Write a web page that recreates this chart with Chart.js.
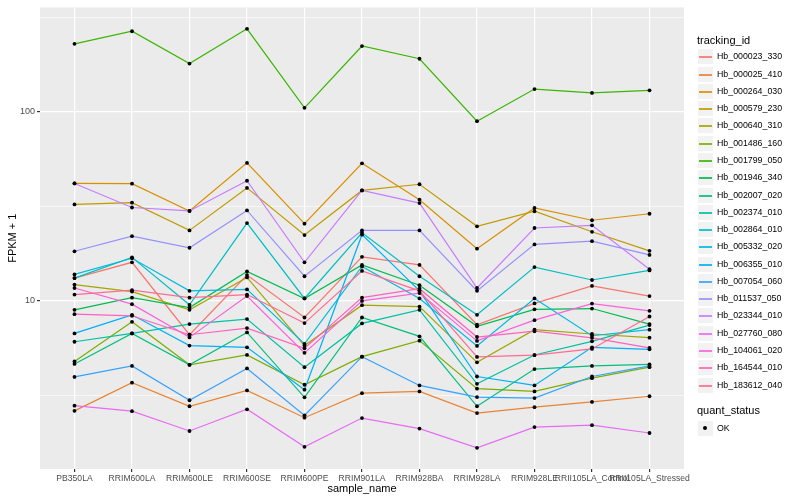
<!DOCTYPE html>
<html>
<head>
<meta charset="utf-8">
<script src="https://cdn.jsdelivr.net/npm/chart.js@4.4.1/dist/chart.umd.min.js"></script>
<style>
  html, body { margin: 0; padding: 0; background: #ffffff; }
  #wrap { position: relative; width: 800px; height: 500px; font-family: "Liberation Sans", Arial, sans-serif; }
  #legend { position: absolute; left: 697px; top: 0; width: 103px; height: 500px; }
  .lg-title { position: absolute; left: 0; font-size: 11px; line-height: 13px; color: #000; white-space: nowrap; }
  .lg-key { position: absolute; left: 0; width: 17px; height: 17px; background: #f2f2f2; box-sizing: border-box; border: 1px solid #ffffff; }
  .lg-line { position: absolute; left: 1px; width: 13px; top: 6.5px; height: 2px; opacity: 0.85; }
  .lg-dot { position: absolute; left: 5px; top: 5px; width: 4px; height: 4px; border-radius: 50%; background: #000; }
  .lg-text { position: absolute; left: 20px; font-size: 8.8px; line-height: 11px; color: #000; white-space: nowrap; }
</style>
</head>
<body>
<div id="wrap">
  <canvas id="chart" width="800" height="500"></canvas>
  <div id="legend"></div>
</div>
<script>
/* ---- data ---- */
const categories = ['PB350LA', 'RRIM600LA', 'RRIM600LE', 'RRIM600SE', 'RRIM600PE', 'RRIM901LA',
  'RRIM928BA', 'RRIM928LA', 'RRIM928LE', 'RRII105LA_Control', 'RRII105LA_Stressed'];

const trackingIds = ['Hb_000023_330', 'Hb_000025_410', 'Hb_000264_030', 'Hb_000579_230', 'Hb_000640_310',
  'Hb_001486_160', 'Hb_001799_050', 'Hb_001946_340', 'Hb_002007_020', 'Hb_002374_010',
  'Hb_002864_010', 'Hb_005332_020', 'Hb_006355_010', 'Hb_007054_060', 'Hb_011537_050',
  'Hb_023344_010', 'Hb_027760_080', 'Hb_104061_020', 'Hb_164544_010', 'Hb_183612_040'];

const seriesColors = ['#F8766D', '#EA8331', '#D89000', '#C09B00', '#A3A500', '#7CAE00', '#39B600',
  '#00BB4E', '#00BF7D', '#00C1A3', '#00BFC4', '#00BAE0', '#00B0F6', '#35A2FF', '#9590FF',
  '#C77CFF', '#E76BF3', '#FA62DB', '#FF62BC', '#FF6C91'];

// FPKM + 1 per sample, same order as categories
const hb_000023_330 = [13.2, 16.0, 6.62, 13.7, 8.17, 17.1, 15.5, 7.48, 9.70, 12.0, 10.6];
const hb_000025_410 = [2.62, 3.69, 2.77, 3.36, 2.41, 3.25, 3.32, 2.55, 2.74, 2.92, 3.13];
const hb_000264_030 = [41.8, 41.7, 29.9, 53.7, 25.6, 53.4, 34.3, 18.9, 31.0, 26.7, 28.9];
const hb_000579_230 = [32.4, 33.1, 23.6, 39.6, 22.3, 38.4, 41.4, 24.8, 29.8, 23.2, 18.4];
const hb_000640_310 = [12.2, 11.2, 8.97, 13.3, 5.80, 9.49, 9.33, 4.73, 7.04, 6.68, 6.39];
const hb_001486_160 = [4.78, 7.75, 4.59, 5.18, 3.60, 5.07, 6.16, 3.43, 3.32, 3.90, 4.46];
const hb_001799_050 = [229, 267, 180, 275, 105, 223, 191, 89.3, 132, 126, 130];
const hb_001946_340 = [8.97, 10.4, 9.22, 14.3, 10.3, 15.5, 12.1, 7.34, 9.02, 9.11, 7.54];
const hb_002007_020 = [4.64, 6.73, 4.59, 6.81, 3.09, 8.17, 6.49, 2.77, 4.36, 4.53, 4.61];
const hb_002374_010 = [6.08, 6.73, 7.54, 8.01, 4.46, 7.60, 8.97, 3.64, 5.17, 6.11, 7.45];
const hb_002864_010 = [13.2, 17.0, 9.53, 25.8, 10.3, 22.9, 13.5, 8.44, 15.1, 12.9, 14.5];
const hb_005332_020 = [13.8, 16.8, 11.3, 11.5, 5.92, 15.2, 10.3, 5.78, 10.3, 6.54, 7.04];
const hb_006355_010 = [6.73, 8.44, 5.80, 5.68, 3.39, 22.4, 11.3, 3.98, 3.57, 5.68, 5.54];
const hb_007054_060 = [3.96, 4.53, 2.98, 4.39, 2.48, 5.07, 3.57, 3.10, 3.06, 3.98, 4.53];
const hb_011537_050 = [18.3, 22.0, 19.1, 30.1, 13.5, 23.6, 23.6, 11.3, 19.9, 20.7, 17.5];
const hb_023344_010 = [41.8, 31.2, 29.9, 43.2, 16.0, 38.4, 32.9, 11.7, 24.3, 25.1, 14.7];
const hb_027760_080 = [2.79, 2.61, 2.05, 2.67, 1.69, 2.40, 2.11, 1.67, 2.15, 2.20, 2.00];
const hb_104061_020 = [11.7, 9.61, 6.41, 10.6, 5.31, 10.0, 11.0, 6.14, 7.91, 9.68, 8.86];
const hb_164544_010 = [8.51, 8.34, 6.62, 7.18, 5.61, 10.4, 11.6, 6.44, 6.91, 6.37, 5.64];
const hb_183612_040 = [10.8, 11.4, 10.4, 10.8, 7.63, 14.4, 11.3, 5.05, 5.17, 5.57, 8.27];

const seriesValues = [hb_000023_330, hb_000025_410, hb_000264_030, hb_000579_230, hb_000640_310,
  hb_001486_160, hb_001799_050, hb_001946_340, hb_002007_020, hb_002374_010,
  hb_002864_010, hb_005332_020, hb_006355_010, hb_007054_060, hb_011537_050,
  hb_023344_010, hb_027760_080, hb_104061_020, hb_164544_010, hb_183612_040];

const yMajorTicks = [10, 100];
const yMinorTicks = [3.162, 31.62, 316.2];
const quantStatus = ['OK'];

/* ---- ggplot-ish look ---- */
const FONT = '"Liberation Sans", Arial, sans-serif';
Chart.defaults.font.family = FONT;

const panelBg = {
  id: 'panelBg',
  beforeDraw(chart) {
    const { ctx, chartArea: a } = chart;
    ctx.save();
    ctx.fillStyle = '#EBEBEB';
    ctx.fillRect(a.left, a.top, a.right - a.left, a.bottom - a.top);
    ctx.restore();
  }
};

const toPoints = vals => vals.map((v, i) => ({ x: i, y: v }));

const datasets = [];
seriesValues.forEach((vals, i) => {
  datasets.push({
    label: trackingIds[i],
    data: toPoints(vals),
    borderColor: seriesColors[i],
    borderWidth: 1.2,
    pointRadius: 0,
    fill: false,
    tension: 0,
    order: 100 - i          // later ids drawn over earlier ones
  });
});
seriesValues.forEach((vals, i) => {
  datasets.push({
    label: trackingIds[i] + ' ' + quantStatus[0],
    data: toPoints(vals),
    showLine: false,
    pointRadius: 1.9,
    pointStyle: 'circle',
    pointBackgroundColor: '#000000',
    pointBorderWidth: 0,
    order: 1
  });
});

const isMajor = v => yMajorTicks.some(t => Math.abs(t - v) < 1e-6);

new Chart(document.getElementById('chart'), {
  type: 'line',
  data: { datasets },
  plugins: [panelBg],
  options: {
    responsive: false,
    animation: false,
    layout: { padding: { left: 0, right: 116, top: 5, bottom: 0 } },
    plugins: { legend: { display: false }, tooltip: { enabled: false } },
    scales: {
      x: {
        type: 'linear',
        min: -0.6,
        max: categories.length - 1 + 0.6,
        afterBuildTicks: s => { s.ticks = categories.map((c, i) => ({ value: i })); },
        afterFit: s => { s.height = 31; },
        border: { display: false },
        grid: { color: '#ffffff', lineWidth: 1.2, tickColor: '#333333', tickLength: 3 },
        ticks: {
          autoSkip: false, maxRotation: 0, padding: 1,
          color: '#4D4D4D', font: { size: 8.6 },
          callback: v => categories[v]
        },
        title: { display: true, text: 'sample_name', color: '#000', font: { size: 11 }, padding: { top: 0, bottom: 4 } }
      },
      y: {
        type: 'logarithmic',
        min: 1.29,
        max: 357,
        afterBuildTicks: s => {
          s.ticks = yMinorTicks.concat(yMajorTicks).sort((a, b) => a - b).map(v => ({ value: v }));
        },
        afterFit: s => { s.width = 40; },
        border: { display: false },
        grid: {
          color: '#ffffff',
          lineWidth: c => (c.tick && isMajor(c.tick.value)) ? 1.2 : 0.6,
          tickColor: c => (c.tick && isMajor(c.tick.value)) ? '#333333' : 'rgba(0,0,0,0)',
          tickLength: 3
        },
        ticks: {
          autoSkip: false, padding: 2,
          color: '#4D4D4D', font: { size: 9 },
          callback: v => isMajor(v) ? String(v) : ''
        },
        title: { display: true, text: 'FPKM + 1', color: '#000', font: { size: 11 }, padding: { top: 6, bottom: 0 } }
      }
    }
  }
});

/* ---- legend (html, ggplot layout) ---- */
const lg = document.getElementById('legend');
function add(cls, top, html) {
  const d = document.createElement('div');
  d.className = cls;
  d.style.top = Math.round(top) + 'px';
  if (html) d.innerHTML = html;
  lg.appendChild(d);
  return d;
}
const keyStep = 17.27;
add('lg-title', 34, 'tracking_id');
trackingIds.forEach((id, i) => {
  const top = 48.4 + keyStep * i;
  const key = add('lg-key', top);
  const ln = document.createElement('div');
  ln.className = 'lg-line';
  ln.style.backgroundColor = seriesColors[i];
  key.appendChild(ln);
  add('lg-text', top + 3, id);
});
add('lg-title', 404, 'quant_status');
quantStatus.forEach((s, i) => {
  const top = 419.5 + keyStep * i;
  const key = add('lg-key', top);
  const dot = document.createElement('div');
  dot.className = 'lg-dot';
  key.appendChild(dot);
  add('lg-text', top + 3, s);
});
</script>
</body>
</html>
